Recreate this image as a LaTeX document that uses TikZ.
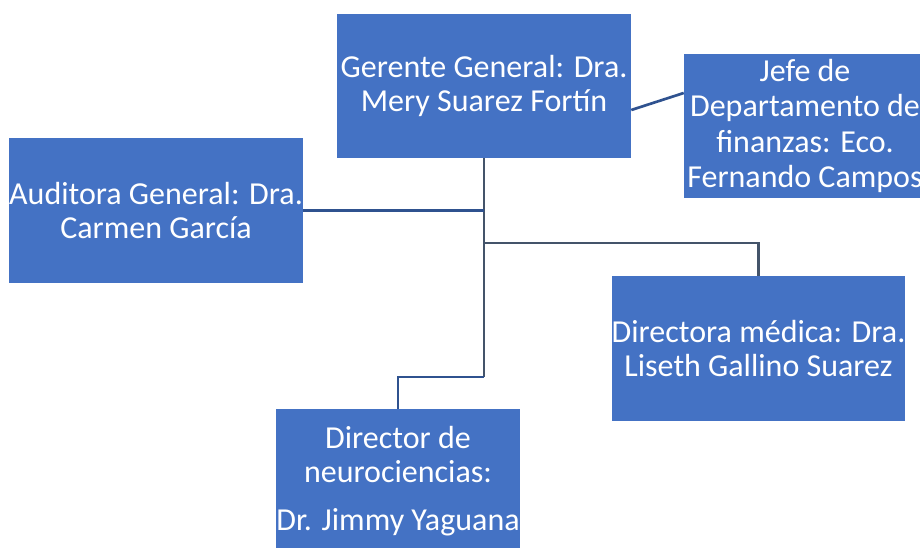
\documentclass[tikz,border=0pt]{standalone}
\usepackage{fontspec}
\setmainfont{Carlito}
\definecolor{boxblue}{HTML}{4472C4}
\definecolor{trunkcol}{HTML}{44546A}
\definecolor{linkcol}{HTML}{2F528F}
\begin{document}
\begin{tikzpicture}[x=0.75pt,y=-0.75pt,
  orgbox/.style={fill=boxblue,draw=none,text=white,align=center,inner sep=0pt,
    font=\fontsize{24}{25.5}\selectfont},
  trunk/.style={draw=trunkcol,line width=2pt},
  link/.style={draw=linkcol,line width=2pt}]
\useasboundingbox (0,0) rectangle (920,548);
\node[orgbox,minimum width=220.5pt,minimum height=108pt] (G) at (484,86)
  {Gerente General: Dra.\\Mery Suarez Fortín};
\node[orgbox,minimum width=181.5pt,minimum height=108pt,
  font=\fontsize{24}{26.5}\selectfont] (J) at (805,126)
  {Jefe de\\Departamento de\\finanzas: Eco.\\Fernando Campos};
\node[orgbox,minimum width=220.5pt,minimum height=108.75pt] (A) at (156,210.5)
  {Auditora General: Dra.\\Carmen García};
\node[orgbox,minimum width=219.75pt,minimum height=108.75pt] (M) at (758.5,348.5)
  {Directora médica: Dra.\\Liseth Gallino Suarez};
\node[orgbox,minimum width=183pt,minimum height=108pt] (D) at (398,481)
  {Director de\\neurociencias:\\[11pt]Dr. Jimmy Yaguana};
\draw[link] (G.east |- 0,110) -- (J.west |- 0,93);
\draw[trunk] (G.south) -- (G.south |- 0,377);
\draw[link] (G.south |- 0,377) -| (D.north);
\draw[link] (A.east) -- (A.east -| G.south);
\draw[trunk] (G.south |- 0,243) -| (M.north);
\end{tikzpicture}
\end{document}
